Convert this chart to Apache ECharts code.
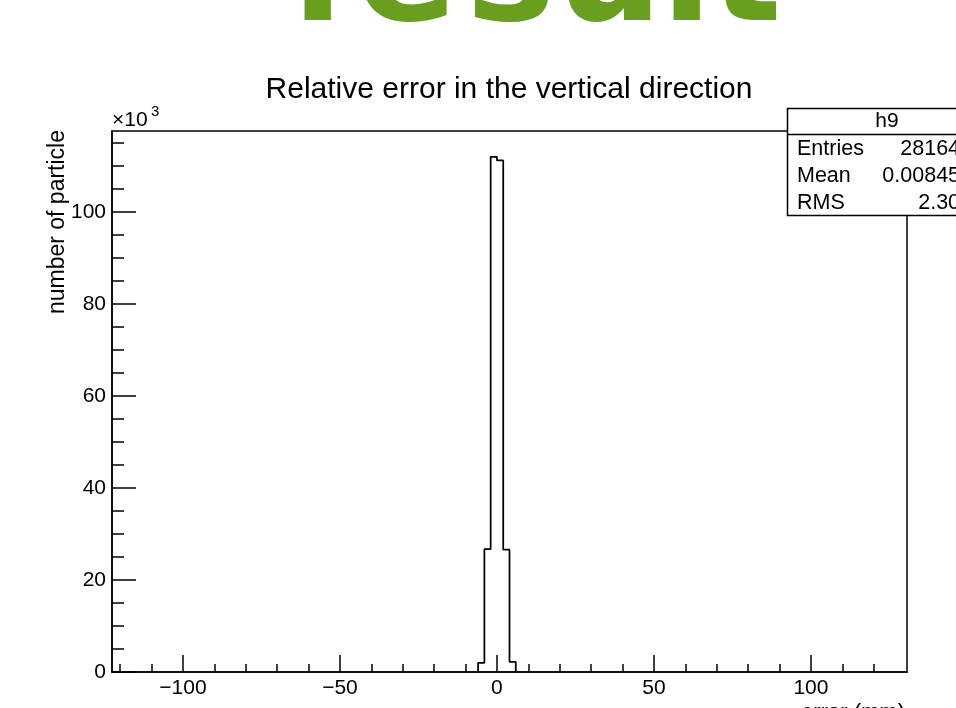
<!DOCTYPE html>
<html>
<head>
<meta charset="utf-8">
<script src="https://cdn.jsdelivr.net/npm/echarts@6/dist/echarts.min.js"></script>
<style>
    html, body { margin: 0; padding: 0; background: #fff; }
    #chart { width: 956px; height: 708px; }
</style>
</head>
<body>
<div id="chart"></div>
<script>
// histogram h9: lower bin edges (mm) and counts (x10^3)
const binLow = [-6, -4, -2, 0, 2, 4];
const binWidth = 2;
const counts = [2.0, 26.7, 112.0, 111.2, 26.6, 2.2];

const xMajorTicks = [-100, -50, 0, 50, 100];
const xMinorTicks = [-120, -110, -90, -80, -70, -60, -40, -30, -20, -10, 10, 20, 30, 40, 60, 70, 80, 90, 110, 120];
const yMajorTicks = [0, 20, 40, 60, 80, 100];
const yMinorTicks = [5, 10, 15, 25, 30, 35, 45, 50, 55, 65, 70, 75, 85, 90, 95, 105, 110, 115];

const statLabels = ["Entries", "Mean", "RMS"];
const statValues = ["281640", "0.008452", "2.302"];

const font = "Liberation Sans";
const myChart = echarts.init(document.getElementById("chart"));

// outline of the histogram as a step line
const outline = [[binLow[0], 0]];
for (let i = 0; i < counts.length; i++) {
    outline.push([binLow[i] + binWidth, counts[i]]);
}
outline.push([binLow[binLow.length - 1] + binWidth, 0]);

const xRange = {min: -122.6, max: 130.6};
const yRange = {min: 0, max: 117.6};

// big green heading, only its lower edge is inside the picture
const green = "#6a9e1f";
const word = ["r", "e", "s", "u", "l", "t"];
const wordX = [292, 356, 466, 556, 661, 710];

const graphics = [];
word.forEach((ch, i) => {
    graphics.push({
        type: "text", x: wordX[i], y: -94, silent: true,
        style: {text: ch, fill: green, font: "bold 150px 'DejaVu Sans'", verticalAlign: "top"}
    });
});
graphics.push(
    {
        type: "text", x: 509, y: 90,
        style: {text: "Relative error in the vertical direction", fill: "#000", font: "30px '" + font + "'", align: "center", verticalAlign: "middle"}
    },
    {
        type: "text", x: 112, y: 131,
        style: {text: "×10", fill: "#000", font: "21px '" + font + "'", verticalAlign: "bottom"}
    },
    {
        type: "text", x: 151, y: 104,
        style: {text: "3", fill: "#000", font: "15px '" + font + "'", verticalAlign: "top"}
    },
    {
        type: "text", x: 58, y: 130, rotation: Math.PI / 2,
        style: {text: "number of particle", fill: "#000", font: "23px '" + font + "'", align: "right", verticalAlign: "middle"}
    },
    {
        type: "text", x: 905, y: 702,
        style: {text: "error (mm)", fill: "#000", font: "22px '" + font + "'", align: "right", verticalAlign: "top"}
    },
    {
        type: "rect", shape: {x: 787.5, y: 108.5, width: 200, height: 107},
        style: {fill: "#fff", stroke: "#000", lineWidth: 1.5}, z: 10
    },
    {
        type: "line", shape: {x1: 787.5, y1: 134.5, x2: 990, y2: 134.5},
        style: {stroke: "#000", lineWidth: 1.5}, z: 11
    },
    {
        type: "text", x: 887, y: 121, z: 11,
        style: {text: "h9", fill: "#000", font: "21px '" + font + "'", align: "center", verticalAlign: "middle"}
    }
);
statLabels.forEach((lab, i) => {
    graphics.push({
        type: "text", x: 797, y: 149 + i * 27, z: 11,
        style: {text: lab, fill: "#000", font: "21.5px '" + font + "'", verticalAlign: "middle"}
    });
    graphics.push({
        type: "text", x: 972, y: 149 + i * 27, z: 11,
        style: {text: statValues[i], fill: "#000", font: "21.5px '" + font + "'", align: "right", verticalAlign: "middle"}
    });
});

const option = {
    animation: false,
    textStyle: {fontFamily: font},
    grid: {
        left: 112, right: 49, top: 131, bottom: 36,
        show: true, borderColor: "#000", borderWidth: 1.5, backgroundColor: "transparent"
    },
    xAxis: [{
        type: "value", min: xRange.min, max: xRange.max,
        axisLine: {show: true, onZero: false, lineStyle: {color: "#000", width: 1.5}},
        axisTick: {show: true, inside: true, length: 17, customValues: xMajorTicks, lineStyle: {color: "#000", width: 1.5}},
        axisLabel: {show: true, customValues: xMajorTicks, color: "#000", fontSize: 21, margin: 6,
            formatter: v => (v < 0 ? "\u2212" + Math.abs(v) : String(v))},
        splitLine: {show: false}
    }, {
        type: "value", min: xRange.min, max: xRange.max, position: "bottom",
        axisLine: {show: false, onZero: false},
        axisTick: {show: true, inside: true, length: 8, customValues: xMinorTicks, lineStyle: {color: "#000", width: 1.5}},
        axisLabel: {show: false},
        splitLine: {show: false}
    }],
    yAxis: [{
        type: "value", min: yRange.min, max: yRange.max,
        axisLine: {show: true, onZero: false, lineStyle: {color: "#000", width: 1.5}},
        axisTick: {show: true, inside: true, length: 24, customValues: yMajorTicks, lineStyle: {color: "#000", width: 1.5}},
        axisLabel: {show: true, customValues: yMajorTicks, color: "#000", fontSize: 21, margin: 6},
        splitLine: {show: false}
    }, {
        type: "value", min: yRange.min, max: yRange.max, position: "left",
        axisLine: {show: false, onZero: false},
        axisTick: {show: true, inside: true, length: 12, customValues: yMinorTicks, lineStyle: {color: "#000", width: 1.5}},
        axisLabel: {show: false},
        splitLine: {show: false}
    }],
    series: [{
        type: "line",
        step: "start",
        data: outline,
        showSymbol: false,
        lineStyle: {color: "#000", width: 1.75},
        z: 3
    }],
    graphic: graphics
};

myChart.setOption(option);
</script>
</body>
</html>
